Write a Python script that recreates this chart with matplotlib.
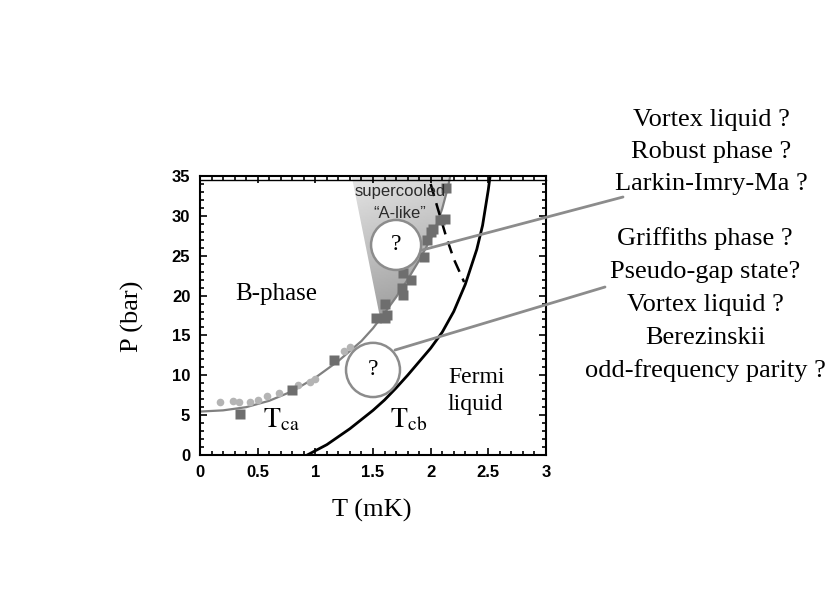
import numpy as np
import matplotlib
matplotlib.use('Agg')
import matplotlib.pyplot as plt
from matplotlib.patches import Ellipse, Polygon, ConnectionPatch
from matplotlib.ticker import MultipleLocator
import matplotlib.transforms as mtransforms

plt.rcParams['mathtext.fontset'] = 'stix'

# measured points (T in mK, P in bar)
circle_T = [0.17, 0.29, 0.34, 0.43, 0.50, 0.58, 0.685, 0.85, 0.95, 1.00, 1.25, 1.30]
circle_P = [6.7, 6.8, 6.7, 6.7, 6.9, 7.4, 7.8, 8.8, 9.1, 9.5, 13.0, 13.6]
square_T = [0.35, 0.80, 1.165, 1.53, 1.60, 1.62, 1.60, 1.76, 1.75, 1.83, 1.76, 1.94,
            1.97, 2.00, 2.02, 2.08, 2.12, 2.13]
square_P = [5.2, 8.1, 11.9, 17.15, 17.15, 17.6, 19.0, 20.1, 20.9, 22.0, 22.8, 24.8,
            27.0, 28.0, 28.4, 29.5, 29.6, 33.5]

# Tca line (gray)
tca_T = [0.0, 0.2, 0.4, 0.6, 0.8, 1.0, 1.2, 1.4, 1.5, 1.6, 1.7, 1.8, 1.9, 2.0, 2.05, 2.1, 2.15, 2.17]
tca_P = [5.45, 5.6, 6.0, 6.8, 8.0, 9.7, 11.8, 14.3, 15.9, 17.8, 19.8, 22.0, 24.4, 27.1, 28.8, 30.9, 33.6, 35.0]

# Tcb line (black)
tcb_T = [0.93, 1.1, 1.3, 1.5, 1.6, 1.7, 1.8, 1.9, 2.0, 2.1, 2.2, 2.3, 2.4, 2.45, 2.5, 2.52]
tcb_P = [0.0, 1.3, 3.3, 5.6, 6.9, 8.4, 10.0, 11.7, 13.4, 15.4, 18.0, 21.4, 25.8, 28.8, 33.3, 35.5]

# dashed line
dash_T = [2.0, 2.06, 2.13, 2.2, 2.29]
dash_P = [34.0, 31.0, 27.6, 24.6, 21.7]

# supercooled wedge outline
wedge_T = [1.315, 1.56, 1.6, 1.7, 1.8, 1.9, 2.0, 2.05, 2.1, 2.15, 2.17]
wedge_P = [35.0, 17.3, 17.8, 19.8, 22.0, 24.4, 27.1, 28.8, 30.9, 33.6, 35.0]

right_top = ['Vortex liquid ?', 'Robust phase ?', 'Larkin-Imry-Ma ?']
right_bottom = ['Griffiths phase ?', 'Pseudo-gap state?', 'Vortex liquid ?',
                'Berezinskii', 'odd-frequency parity ?']

W, H = 830, 604
fig = plt.figure(figsize=(W / 100, H / 100), dpi=100)
ax = fig.add_axes([200 / W, 1 - 455 / H, 346 / W, 279 / H])

# gradient wedge
poly = Polygon(list(zip(wedge_T, wedge_P)), closed=True, facecolor='none', edgecolor='none')
ax.add_patch(poly)
gy, gx = np.mgrid[0:1:100j, 0:1:100j]
shade = 0.64 + 0.26 * gy - 0.06 * gx
im = ax.imshow(shade, extent=[1.3, 2.2, 17.0, 35.0], origin='lower', cmap='gray',
               vmin=0, vmax=1, aspect='auto', zorder=1)
im.set_clip_path(poly)

ax.plot(tca_T, tca_P, color='#808080', lw=1.6, zorder=2)
ax.plot(tcb_T, tcb_P, color='black', lw=2.0, zorder=2)
ax.plot(dash_T, dash_P, color='black', lw=1.8, ls=(0, (5, 3)), zorder=2)

ax.plot(circle_T, circle_P, 'o', color='#b4b4b4', ms=5.5, mec='none', zorder=3)
ax.plot(square_T, square_P, 's', color='#6e6e6e', ms=6.5, mec='none', zorder=3)

# connector lines from the bubbles to the right-hand text
for start, end in [((1.923, 25.7), (623, 197)), ((1.691, 13.17), (605, 287))]:
    con = ConnectionPatch(xyA=start, coordsA=ax.transData,
                          xyB=(end[0] / W, 1 - end[1] / H), coordsB=fig.transFigure,
                          color='#8c8c8c', lw=2, zorder=4, clip_on=False)
    ax.add_artist(con)

for (cx, cy), w, h in [((1.70, 26.35), 0.434, 6.27), ((1.50, 10.67), 0.468, 6.8)]:
    ax.add_patch(Ellipse((cx, cy), w, h, facecolor='white', edgecolor='#8c8c8c',
                         lw=1.8, zorder=5))
    ax.text(cx, cy, '?', ha='center', va='center', fontsize=17,
            family='Liberation Serif', zorder=6)

serif = 'Liberation Serif'
ax.text(1.735, 32.5, 'supercooled', ha='center', va='baseline', fontsize=12,
        family='Liberation Sans', color='#2a2a2a', zorder=6)
ax.text(1.735, 29.7, '\u201cA-like\u201d', ha='center', va='baseline', fontsize=12,
        family='Liberation Sans', color='#2a2a2a', zorder=6)
ax.text(0.66, 19.45, 'B-phase', ha='center', va='baseline', fontsize=18, family=serif)
ax.text(0.546, 3.5, r'$\mathrm{T_{ca}}$', ha='left', va='baseline', fontsize=20)
ax.text(1.648, 3.5, r'$\mathrm{T_{cb}}$', ha='left', va='baseline', fontsize=20)
ax.text(2.15, 9.0, 'Fermi', ha='left', va='baseline', fontsize=17, family=serif)
ax.text(2.15, 5.6, 'liquid', ha='left', va='baseline', fontsize=17, family=serif)

ax.set_xlim(0, 3)
ax.set_ylim(0, 35)
ax.xaxis.set_major_locator(MultipleLocator(0.5))
ax.xaxis.set_minor_locator(MultipleLocator(0.1))
ax.yaxis.set_major_locator(MultipleLocator(5))
ax.yaxis.set_minor_locator(MultipleLocator(1))
ax.set_xticks(np.arange(0, 3.01, 0.5))
ax.set_xticklabels(['0', '0.5', '1', '1.5', '2', '2.5', '3'])
ax.tick_params(which='both', direction='in', top=True, right=True, width=1.2)
ax.tick_params(which='major', length=5, pad=7)
ax.tick_params(which='minor', length=3)
for lab in ax.get_xticklabels() + ax.get_yticklabels():
    lab.set_family('Liberation Sans')
    lab.set_fontweight('bold')
    lab.set_fontsize(12)
for sp in ax.spines.values():
    sp.set_linewidth(1.5)

# second line along the top tick tips
off = mtransforms.ScaledTranslation(0, -4 / 100, fig.dpi_scale_trans)
ax.plot([0, 1], [1, 1], color='black', lw=1.0, transform=ax.transAxes + off, clip_on=False)

fig.text(372 / W, 1 - 517 / H, 'T (mK)', ha='center', va='baseline', fontsize=19, family=serif)
fig.text(132 / W, 1 - 316 / H, 'P (bar)', ha='center', va='center', rotation=90,
         fontsize=19, family=serif)

for txt, base in zip(right_top, [126, 158, 190]):
    fig.text(711 / W, 1 - base / H, txt, ha='center', va='baseline', fontsize=19, family=serif)
for txt, base in zip(right_bottom, [245, 278, 311.5, 344, 376.5]):
    fig.text(705 / W, 1 - base / H, txt, ha='center', va='baseline', fontsize=19, family=serif)

fig.savefig('out.png', dpi=100, facecolor='white')
